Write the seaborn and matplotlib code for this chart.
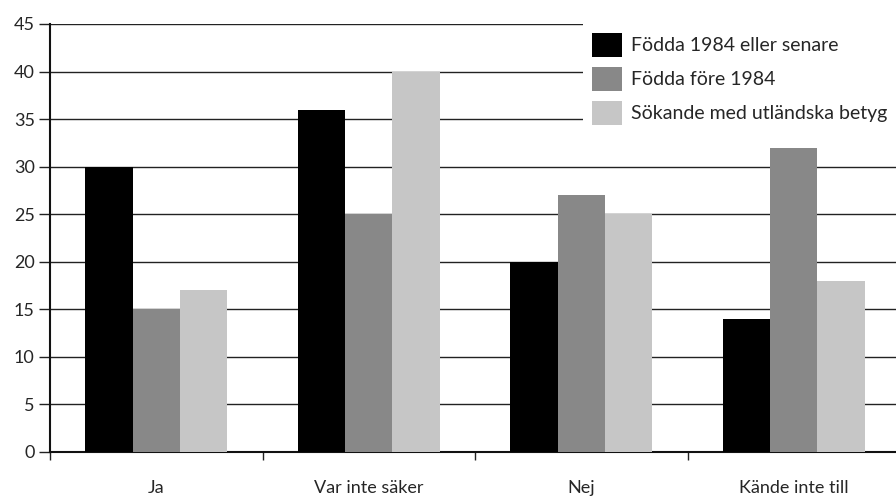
import matplotlib.pyplot as plt
import matplotlib.ticker as ticker
import pandas as pd
import seaborn as sns

# data
categories = ['Ja', 'Var inte säker', 'Nej', 'Kände inte till']
series = ['Födda 1984 eller senare', 'Födda före 1984', 'Sökande med utländska betyg']
values_young = [30, 36, 20, 14]
values_old = [15, 25, 27, 32]
values_foreign = [17, 40, 25, 18]
colors = ['#000000', '#888888', '#c6c6c6']

df = pd.DataFrame({
    'kategori': categories * 3,
    'grupp': [series[0]] * 4 + [series[1]] * 4 + [series[2]] * 4,
    'andel': values_young + values_old + values_foreign,
})

sns.set_style('white')
plt.rcParams['font.family'] = ['Lato', 'DejaVu Sans']

fig = plt.figure(figsize=(8.96, 4.96), dpi=100)
# the plot area goes past the right edge, as in the reference
ax = fig.add_axes([50 / 896, 1 - 452 / 496, 850 / 896, 428 / 496])

sns.barplot(data=df, x='kategori', y='andel', hue='grupp', order=categories,
            hue_order=series, palette=colors, width=0.67, saturation=1,
            edgecolor='none', ax=ax, zorder=3)

ax.set_ylim(0, 45)
ax.set_xlim(-0.5, 3.5)
ax.yaxis.set_major_locator(ticker.MultipleLocator(5))
ax.grid(axis='y', color='#222222', linewidth=1, zorder=0)
ax.set_axisbelow(True)

# category boundaries as major ticks, labels on minor ticks in the middle
ax.xaxis.set_major_locator(ticker.FixedLocator([-0.5, 0.5, 1.5, 2.5, 3.5]))
ax.xaxis.set_major_formatter(ticker.NullFormatter())
ax.xaxis.set_minor_locator(ticker.FixedLocator(range(4)))
ax.xaxis.set_minor_formatter(ticker.FixedFormatter(categories))
ax.tick_params(axis='x', which='major', direction='out', length=6, width=1, color='#222222', bottom=True)
ax.tick_params(axis='x', which='minor', length=0, pad=20, labelsize=13)
ax.tick_params(axis='y', direction='out', length=8, width=1, color='#222222', left=True, labelsize=13, pad=3)
ax.set_xlabel('')
ax.set_ylabel('')

for side in ['top', 'right']:
    ax.spines[side].set_visible(False)
for side in ['left', 'bottom']:
    ax.spines[side].set_color('#111111')
    ax.spines[side].set_linewidth(1.5)

leg = ax.legend(loc='upper left', bbox_to_anchor=(583 / 896, 1 - 24 / 496),
                bbox_transform=fig.transFigure, frameon=True, fancybox=False,
                fontsize=14, handlelength=1.55, handleheight=1.55, labelspacing=0.5,
                handletextpad=0.45, borderpad=0.45, borderaxespad=0)
leg.get_frame().set_facecolor('white')
leg.get_frame().set_edgecolor('none')
leg.get_frame().set_alpha(1)
leg.set_zorder(5)

fig.savefig('out.png', dpi=100)
